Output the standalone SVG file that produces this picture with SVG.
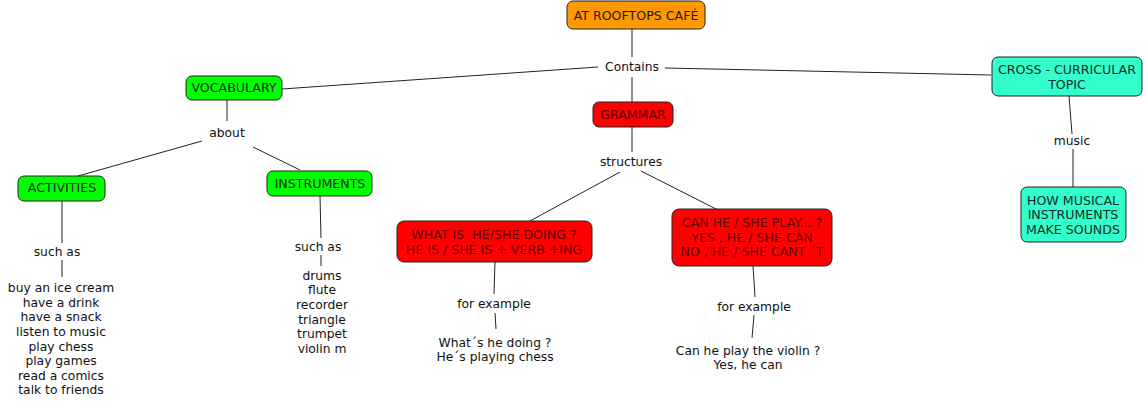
<svg xmlns="http://www.w3.org/2000/svg" width="1146" height="406" viewBox="0 0 1146 406">
<style>
text{font-family:"DejaVu Sans",Verdana,sans-serif;font-size:12.3px;text-anchor:middle;fill:#111}
.box{stroke:#222;stroke-width:1}
.box+text,.up{font-size:12.6px}
.orange{fill:#FF9900}
.green{fill:#00FF00}
.red{fill:#FF0000}
.cyan{fill:#33FFCC}
.tg{fill:#103010}
.tr{fill:#660000}
.tc{fill:#0d2e28}
.tk{fill:#301500}
#connectors line{stroke:#222;stroke-width:1}
</style>
<rect width="1146" height="406" fill="#fff"/>
<g id="connectors">
<line x1="632" y1="29" x2="632" y2="57"/>
<line x1="632" y1="77" x2="632" y2="102"/>
<line x1="598" y1="67" x2="282" y2="89"/>
<line x1="665" y1="68" x2="991" y2="75"/>
<line x1="227" y1="100" x2="227" y2="121"/>
<line x1="202" y1="141" x2="78" y2="176"/>
<line x1="253" y1="147" x2="300" y2="170"/>
<line x1="62" y1="201" x2="62" y2="243"/>
<line x1="62" y1="260" x2="62" y2="277"/>
<line x1="320" y1="196" x2="321" y2="238"/>
<line x1="321" y1="255" x2="321" y2="266"/>
<line x1="632" y1="127" x2="632" y2="152"/>
<line x1="620" y1="172" x2="530" y2="221"/>
<line x1="641" y1="171" x2="718" y2="210"/>
<line x1="495" y1="262" x2="494" y2="294"/>
<line x1="495" y1="313" x2="496" y2="329"/>
<line x1="753" y1="266" x2="755" y2="297"/>
<line x1="754" y1="315" x2="752" y2="338"/>
<line x1="1069" y1="96" x2="1072" y2="134"/>
<line x1="1073" y1="149" x2="1073" y2="187"/>
</g>
<g id="n-cafe"><rect class="box orange" x="567" y="1" width="138" height="28" rx="6"/><text class="tk up" x="636" y="20">AT ROOFTOPS CAFÉ</text></g>
<g id="l-contains"><text x="632" y="71">Contains</text></g>
<g id="n-grammar"><rect class="box red" x="593" y="102" width="80" height="25" rx="6"/><text class="tr up" x="633" y="119">GRAMMAR</text></g>
<g id="n-vocab"><rect class="box green" x="186" y="76" width="96" height="24" rx="6"/><text class="tg up" x="234" y="92">VOCABULARY</text></g>
<g id="l-about"><text x="227" y="137">about</text></g>
<g id="n-activities"><rect class="box green" x="18" y="176" width="87" height="25" rx="6"/><text class="tg up" x="62" y="192">ACTIVITIES</text></g>
<g id="l-suchas1"><text x="57" y="256">such as</text></g>
<g id="n-actlist"><text x="61" y="292">buy an ice cream</text><text x="61" y="307">have a drink</text><text x="61" y="321">have a snack</text><text x="61" y="336">listen to music</text><text x="61" y="351">play chess</text><text x="61" y="365">play games</text><text x="61" y="380">read a comics</text><text x="61" y="394">talk to friends</text></g>
<g id="n-instruments"><rect class="box green" x="267" y="171" width="105" height="25" rx="6"/><text class="tg up" x="320" y="188">INSTRUMENTS</text></g>
<g id="l-suchas2"><text x="318" y="251">such as</text></g>
<g id="n-instlist"><text x="322" y="280">drums</text><text x="322" y="294">flute</text><text x="322" y="309">recorder</text><text x="322" y="324">triangle</text><text x="322" y="338">trumpet</text><text x="322" y="353">violin m</text></g>
<g id="l-structures"><text x="631" y="166">structures</text></g>
<g id="n-what"><rect class="box red" x="397" y="221" width="195" height="41" rx="7"/><text class="tr up" x="494" y="239" xml:space="preserve">WHAT IS  HE/SHE DOING ?</text><text class="tr up" x="494" y="254">HE IS / SHE IS + VERB +ING</text></g>
<g id="l-forex1"><text x="494" y="308">for example</text></g>
<g id="n-whatex"><text x="495" y="347">What´s he doing ?</text><text x="495" y="361">He´s playing chess</text></g>
<g id="n-can"><rect class="box red" x="672" y="209" width="160" height="57" rx="7"/><text class="tr up" x="752" y="227">CAN HE / SHE PLAY... ?</text><text class="tr up" x="752" y="242">YES , HE / SHE CAN</text><text class="tr up" x="752" y="256">NO , HE / SHE CANT ´T</text></g>
<g id="l-forex2"><text x="754" y="311">for example</text></g>
<g id="n-canex"><text x="748" y="355">Can he play the violin ?</text><text x="748" y="369">Yes, he can</text></g>
<g id="n-cross"><rect class="box cyan" x="992" y="57" width="150" height="39" rx="6"/><text class="tc up" x="1067" y="74">CROSS - CURRICULAR</text><text class="tc up" x="1067" y="89">TOPIC</text></g>
<g id="l-music"><text x="1072" y="145">music</text></g>
<g id="n-how"><rect class="box cyan" x="1021" y="187" width="105" height="55" rx="6"/><text class="tc up" x="1073" y="205">HOW MUSICAL</text><text class="tc up" x="1073" y="219">INSTRUMENTS</text><text class="tc up" x="1073" y="234">MAKE SOUNDS</text></g>
</svg>
